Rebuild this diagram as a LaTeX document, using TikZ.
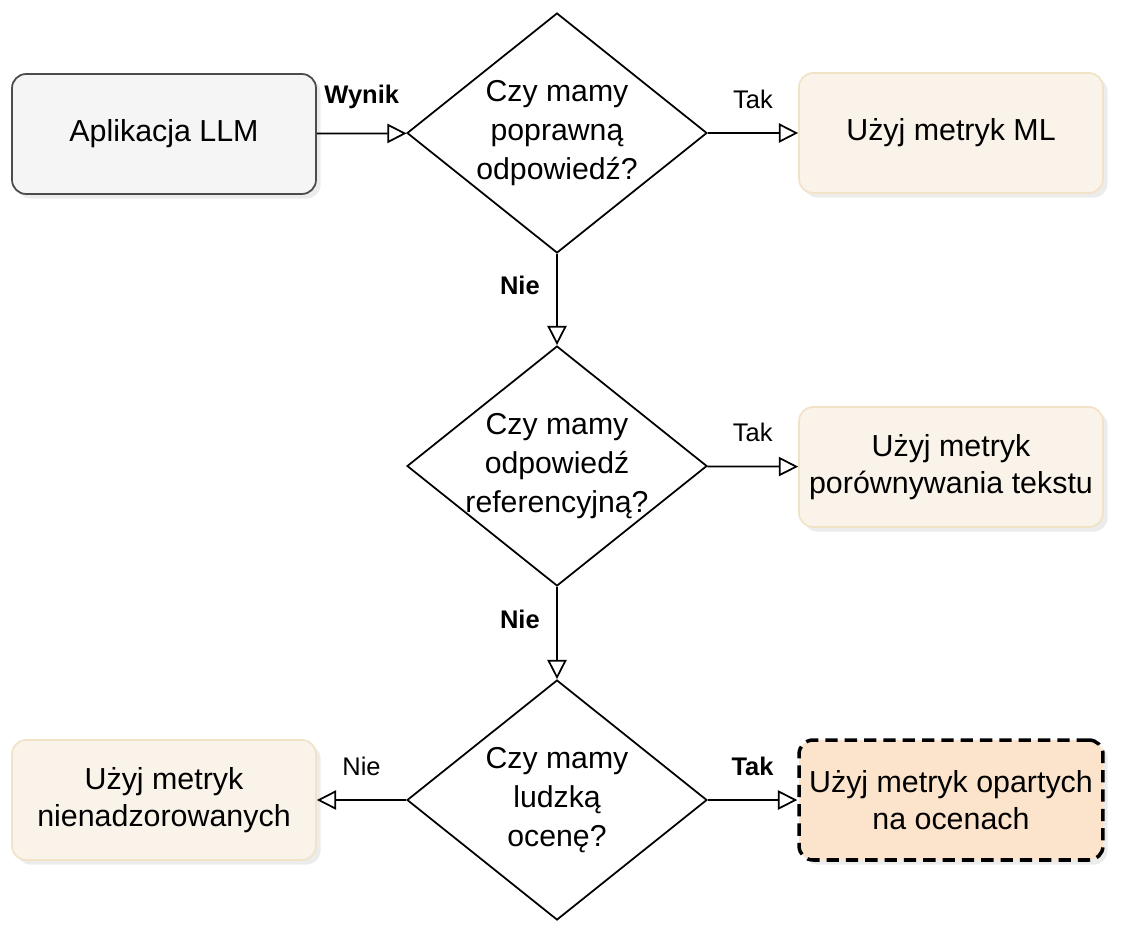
\documentclass[tikz,border=0pt]{standalone}
\usepackage{fontspec}
\setmainfont{Liberation Sans}
\usetikzlibrary{shapes.geometric,arrows.meta,shadows}
\definecolor{grayfill}{HTML}{F5F5F5}
\definecolor{beigefill}{HTML}{FAF3EA}
\definecolor{beigeline}{HTML}{F1E3C8}
\definecolor{orangefill}{HTML}{FCE4CC}
\tikzset{
  box/.style={draw, rounded corners=8pt, minimum width=6.08cm, minimum height=2.4cm, align=center, font=\fontsize{17.3}{21}\selectfont, drop shadow={opacity=0.15}},
  startbox/.style={box, fill=grayfill, draw=black!70, line width=1pt},
  resbox/.style={box, fill=beigefill, draw=beigeline, line width=1pt},
  bestbox/.style={box, fill=orangefill, line width=2pt, dash pattern=on 7pt off 4pt},
  decision/.style={diamond, draw, line width=1pt, fill=white, minimum width=6cm, minimum height=4.8cm, aspect=1.25, inner sep=-8pt, align=center, font=\fontsize{17.2}{22}\selectfont},
  flow/.style={-{Triangle[open,length=11pt,width=11pt]}, line width=1pt},
  lbl/.style={font=\fontsize{14.5}{17}\selectfont},
  blbl/.style={font=\bfseries\fontsize{14.5}{17}\selectfont},
}
\begin{document}
\begin{tikzpicture}[x=0.02cm,y=-0.02cm]
  \useasboundingbox (0,0) rectangle (1126,944);
  % nodes
  \node[startbox] (app) at (164,134) {Aplikacja LLM};
  \node[decision] (q1) at (557,133) {Czy mamy\\poprawną\\odpowiedź?};
  \node[resbox] (ml) at (951,133) {Użyj metryk ML};
  \node[decision] (q2) at (557,466) {Czy mamy\\odpowiedź\\referencyjną?};
  \node[resbox] (txt) at (951,467) {Użyj metryk\\porównywania tekstu};
  \node[decision] (q3) at (557,800) {Czy mamy\\ludzką\\ocenę?};
  \node[resbox] (unsup) at (164,800) {Użyj metryk\\nienadzorowanych};
  \node[bestbox] (judge) at (951,800) {Użyj metryk opartych\\na ocenach};
  % connectors
  \draw[flow] (app) -- node[above, blbl, yshift=10pt] {Wynik} (q1);
  \draw[flow] (q1) -- node[above, lbl, yshift=10pt] {Tak} (ml);
  \draw[flow] (q1) -- node[pos=0.35, left, blbl, xshift=-6pt] {Nie} (q2);
  \draw[flow] (q2) -- node[above, lbl, yshift=10pt] {Tak} (txt);
  \draw[flow] (q2) -- node[pos=0.35, left, blbl, xshift=-6pt] {Nie} (q3);
  \draw[flow] (q3) -- node[above, lbl, yshift=10pt] {Nie} (unsup);
  \draw[flow] (q3) -- node[above, blbl, yshift=10pt] {Tak} (judge);
\end{tikzpicture}
\end{document}
